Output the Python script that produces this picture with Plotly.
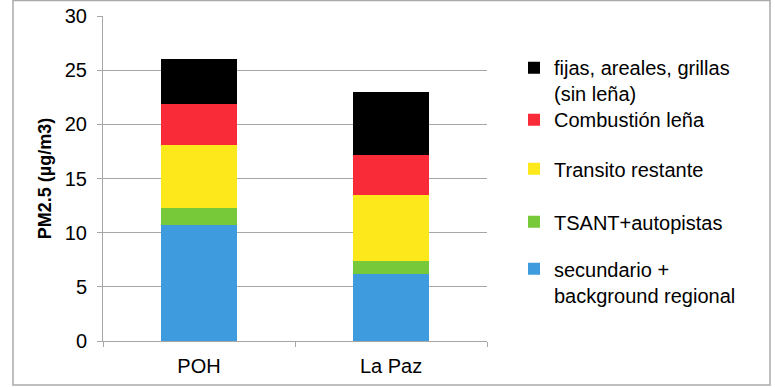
import plotly.graph_objects as go

categories = ["POH", "La Paz"]
series_names = [
    "secundario +<br>background regional",
    "TSANT+autopistas",
    "Transito restante",
    "Combustión leña",
    "fijas, areales, grillas<br>(sin leña)",
]
secundario = [10.7, 6.2]
tsant = [1.6, 1.2]
transito = [5.8, 6.1]
lena = [3.8, 3.7]
fijas = [4.1, 5.8]
y_ticks = [0, 5, 10, 15, 20, 25, 30]

values = [secundario, tsant, transito, lena, fijas]
colors = ["#3D9BDE", "#77C93A", "#FCE81B", "#FA2B39", "#000000"]
legend_ids = ["legend5", "legend4", "legend3", "legend2", "legend"]
legend_y = [0.182, 0.367, 0.530, 0.681, 0.801]

FONT = "Liberation Sans, Arial, sans-serif"

fig = go.Figure()
for name, vals, col, lid in zip(series_names, values, colors, legend_ids):
    fig.add_trace(go.Bar(
        x=categories, y=vals, name=name,
        marker=dict(color=col, line=dict(width=0)),
        legend=lid,
    ))

L, R, T, B = 103, 288, 16, 46
W, H = 775, 387
pw = W - L - R
ph = H - T - B

def legend_cfg(y):
    return dict(
        x=(514 - L) / pw, y=y, xanchor="left", yanchor="middle",
        font=dict(family=FONT, size=20, color="#000000"),
        bgcolor="rgba(0,0,0,0)", valign="top",
    )

layout_legends = {lid: legend_cfg(y) for lid, y in zip(legend_ids, legend_y)}

fig.update_layout(
    width=W, height=H,
    margin=dict(l=L, r=R, t=T, b=B, autoexpand=False),
    barmode="stack",
    bargap=0.6,
    plot_bgcolor="white",
    paper_bgcolor="white",
    font=dict(family=FONT, size=20, color="#000000"),
    showlegend=True,
    **layout_legends,
)

fig.update_yaxes(
    range=[0, 30], tickvals=y_ticks,
    showgrid=True, gridcolor="#a6a6a6", gridwidth=1,
    showline=True, linecolor="#a6a6a6", linewidth=1,
    ticks="outside", ticklen=5, tickcolor="#a6a6a6",
    ticklabelstandoff=6,
    tickfont=dict(family=FONT, size=20, color="#000000"),
    title=dict(text="<b>PM2.5 (µg/m3)</b>", font=dict(family=FONT, size=18, color="#000000"), standoff=8),
    zeroline=False, automargin=False,
)
fig.update_xaxes(
    showline=True, linecolor="#a6a6a6", linewidth=1,
    ticks="outside", ticklen=5, tickcolor="#a6a6a6", tickson="boundaries",
    ticklabelstandoff=7,
    tickfont=dict(family=FONT, size=20, color="#000000"),
    automargin=False,
)

# outer chart-area border
fig.add_shape(
    type="rect", xref="paper", yref="paper",
    x0=(13 - L) / pw, x1=(770 - L) / pw,
    y0=(H - B - 385) / ph, y1=(H - B - 0.5) / ph,
    line=dict(color="#aaaaaa", width=1.5), fillcolor="rgba(0,0,0,0)",
    layer="below",
)

fig.write_html(
    "out.html",
    config={"displayModeBar": False},
    post_script="document.body.style.margin='0';document.body.style.overflow='hidden';",
)
